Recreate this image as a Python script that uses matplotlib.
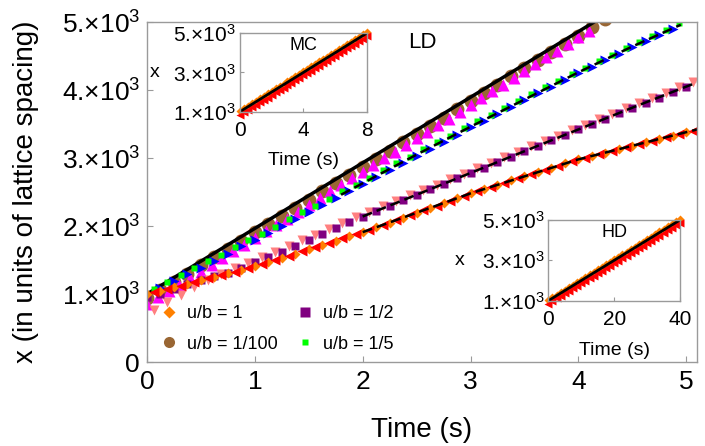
import matplotlib
matplotlib.use("Agg")
import matplotlib.pyplot as plt
from matplotlib.lines import Line2D
from matplotlib.ticker import FuncFormatter

plt.rcParams["font.family"] = ["Liberation Sans", "DejaVu Sans"]
plt.rcParams["mathtext.fontset"] = "custom"
plt.rcParams["mathtext.rm"] = "Liberation Sans"
plt.rcParams["mathtext.it"] = "Liberation Sans:italic"

# sampling times of the LD trajectories (s)
t_grid = [0.0, 0.125, 0.25, 0.375, 0.5, 0.625, 0.75, 0.875, 1.0, 1.125, 1.25,
          1.375, 1.5, 1.625, 1.75, 1.875, 2.0, 2.125, 2.25, 2.375, 2.5, 2.625,
          2.75, 2.875, 3.0, 3.125, 3.25, 3.375, 3.5, 3.625, 3.75, 3.875, 4.0,
          4.125, 4.25, 4.375, 4.5, 4.625, 4.75, 4.875, 5.0]
t_half = [0.0625, 0.1875, 0.3125, 0.4375, 0.5625, 0.6875, 0.8125, 0.9375,
          1.0625, 1.1875, 1.3125, 1.4375, 1.5625, 1.6875, 1.8125, 1.9375,
          2.0625, 2.1875, 2.3125, 2.4375, 2.5625, 2.6875, 2.8125, 2.9375,
          3.0625, 3.1875, 3.3125, 3.4375, 3.5625, 3.6875, 3.8125, 3.9375,
          4.0625, 4.1875, 4.3125, 4.4375, 4.5625, 4.6875, 4.8125, 4.9375, 5.0625]
t_magenta = [0.0, 0.1, 0.2, 0.3, 0.4, 0.5, 0.6, 0.7, 0.8, 0.9, 1.0, 1.1, 1.2,
             1.3, 1.4, 1.5, 1.6, 1.7, 1.8, 1.9, 2.0, 2.1, 2.2, 2.3, 2.4, 2.5,
             2.6, 2.7, 2.8, 2.9, 3.0, 3.1, 3.2, 3.3, 3.4, 3.5, 3.6, 3.7, 3.8,
             3.9, 4.0, 4.1]

# u/b = 1 (orange) and its companion run (red)
x_ub1 = [1000, 1050, 1100, 1150, 1200, 1255, 1305, 1360, 1410, 1470, 1535, 1595,
         1660, 1720, 1785, 1850, 1910, 1980, 2050, 2125, 2195, 2265, 2340, 2410,
         2480, 2545, 2605, 2670, 2730, 2795, 2855, 2920, 2980, 3030, 3080, 3130,
         3180, 3230, 3280, 3330, 3380]
x_red = [1025, 1075, 1125, 1175, 1230, 1280, 1330, 1385, 1440, 1505, 1565, 1630,
         1690, 1755, 1820, 1880, 1945, 2015, 2090, 2160, 2230, 2300, 2375, 2445,
         2510, 2575, 2640, 2700, 2765, 2825, 2890, 2950, 3005, 3055, 3105, 3155,
         3205, 3255, 3305, 3355, 3400]
# u/b = 1/2 (purple) and pink run
x_ub2 = [950, 1000, 1080, 1150, 1200, 1260, 1310, 1390, 1470, 1550, 1620, 1700,
         1790, 1880, 1970, 2060, 2140, 2220, 2300, 2380, 2460, 2540, 2620, 2700,
         2780, 2860, 2940, 3020, 3100, 3180, 3260, 3340, 3420, 3500, 3580, 3660,
         3740, 3810, 3890, 3970, 4050]
x_pink = [770, 880, 990, 1100, 1200, 1300, 1380, 1460, 1540, 1620, 1700, 1790,
          1870, 1960, 2050, 2130, 2210, 2290, 2370, 2450, 2530, 2610, 2690, 2770,
          2850, 2930, 3010, 3090, 3170, 3250, 3330, 3410, 3490, 3570, 3650, 3730,
          3810, 3880, 3960, 4040, 4120]
# u/b = 1/5 (green) and blue run
x_blue = [1000, 1090, 1190, 1290, 1390, 1490, 1590, 1700, 1800, 1900, 2000, 2110,
          2210, 2310, 2410, 2520, 2620, 2720, 2830, 2930, 3030, 3140, 3240, 3340,
          3450, 3550, 3650, 3750, 3850, 3950, 4050, 4150, 4250, 4340, 4440, 4530,
          4630, 4720, 4810, 4900]
x_ub5 = [1080, 1180, 1280, 1380, 1480, 1580, 1690, 1790, 1890, 1990, 2100, 2200,
         2300, 2400, 2510, 2610, 2710, 2820, 2920, 3020, 3130, 3230, 3330, 3440,
         3540, 3640, 3740, 3840, 3940, 4040, 4140, 4240, 4330, 4430, 4520, 4620,
         4710, 4800, 4890, 4980]
# u/b = 1/100 (brown) and magenta run
x_ub100 = [940, 1060, 1180, 1300, 1420, 1545, 1665, 1785, 1905, 2025, 2145, 2270,
           2390, 2510, 2630, 2750, 2870, 2990, 3110, 3230, 3350, 3475, 3595, 3715,
           3835, 3955, 4075, 4200, 4320, 4440, 4560, 4680, 4800, 4920, 5040]
x_magenta = [850, 950, 1050, 1140, 1240, 1330, 1430, 1530, 1630, 1720, 1820, 1920,
             2020, 2110, 2210, 2310, 2410, 2510, 2600, 2700, 2800, 2900, 3000, 3090,
             3190, 3290, 3390, 3490, 3580, 3680, 3780, 3880, 3980, 4080, 4180, 4280,
             4380, 4480, 4580, 4680, 4780, 4870]

# fits
fit_lin_t = [0.0, 5.1]
fit_lin_x = [1000, 5920]
fit1_t = [2.0, 2.5, 3.0, 3.5, 4.0, 4.5, 5.0, 5.1]
fit1_x = [1910, 2195, 2480, 2730, 2980, 3180, 3380, 3420]
fit2_t = [2.0, 2.5, 3.0, 3.5, 4.0, 4.5, 5.0, 5.1]
fit2_x = [2140, 2460, 2780, 3100, 3420, 3740, 4050, 4110]
fit3_t = [1.8, 2.5, 3.0, 3.5, 4.0, 4.5, 4.95]
fit3_x = [2460, 3050, 3460, 3860, 4260, 4640, 4960]

# MC inset
t_mc = [0.0, 0.25, 0.5, 0.75, 1.0, 1.25, 1.5, 1.75, 2.0, 2.25, 2.5, 2.75, 3.0,
        3.25, 3.5, 3.75, 4.0, 4.25, 4.5, 4.75, 5.0, 5.25, 5.5, 5.75, 6.0, 6.25,
        6.5, 6.75, 7.0, 7.25, 7.5, 7.75, 8.0]
mc_orange = [1060, 1190, 1310, 1440, 1560, 1690, 1810, 1930, 2060, 2190, 2310,
             2430, 2560, 2690, 2810, 2940, 3060, 3180, 3310, 3440, 3560, 3680,
             3810, 3940, 4060, 4190, 4310, 4430, 4560, 4690, 4810, 4940, 5060]
mc_red = [850, 980, 1100, 1220, 1350, 1480, 1600, 1720, 1850, 1980, 2100, 2230,
          2350, 2470, 2600, 2730, 2850, 2970, 3100, 3230, 3350, 3470, 3600, 3730,
          3850, 3970, 4100, 4230, 4350, 4470, 4600, 4730, 4850]
mc_fit_t = [0, 8]
mc_fit_x = [1000, 5000]

# HD inset
t_hd = [0.0, 1.25, 2.5, 3.75, 5.0, 6.25, 7.5, 8.75, 10.0, 11.25, 12.5, 13.75,
        15.0, 16.25, 17.5, 18.75, 20.0, 21.25, 22.5, 23.75, 25.0, 26.25, 27.5,
        28.75, 30.0, 31.25, 32.5, 33.75, 35.0, 36.25, 37.5, 38.75, 40.0]
hd_orange = [1050, 1180, 1300, 1430, 1550, 1680, 1800, 1930, 2050, 2180, 2300,
             2430, 2550, 2680, 2800, 2930, 3050, 3180, 3300, 3430, 3550, 3680,
             3800, 3930, 4050, 4180, 4300, 4430, 4550, 4680, 4800, 4930, 5050]
hd_red = [860, 980, 1110, 1230, 1360, 1480, 1610, 1730, 1860, 1980, 2110, 2230,
          2360, 2480, 2610, 2730, 2860, 2980, 3110, 3230, 3360, 3480, 3610, 3730,
          3860, 3980, 4110, 4230, 4360, 4480, 4610, 4730, 4860]
hd_fit_t = [0, 40]
hd_fit_x = [1000, 5000]

y_ticks = [0, 1000, 2000, 3000, 4000, 5000]
x_ticks = [0, 1, 2, 3, 4, 5]

ORANGE = "#ff8000"
RED = "#ff0000"
PURPLE = "#800080"
PINK = "#ff8080"
GREEN = "#00ff00"
BLUE = "#0000ff"
BROWN = "#996633"
MAGENTA = "#ff00ff"
FRAME = "#9a9a9a"
DASH = (4, 2)


def sci(v, pos=None):
    if v == 0:
        return "0"
    return "%d.$\\times$10$^{3}$" % round(v / 1000)


def style_frame(ax, size, pad_x, pad_y):
    for s in ax.spines.values():
        s.set_color(FRAME)
        s.set_linewidth(1.0)
    ax.tick_params(direction="in", color=FRAME, length=4, width=0.8,
                   labelsize=size)
    ax.tick_params(axis="x", pad=pad_x)
    ax.tick_params(axis="y", pad=pad_y)


fig = plt.figure(figsize=(7.05, 4.46), dpi=100)
ax = fig.add_axes([0.2085, 0.1883, 0.7801, 0.7623])

ax.plot(t_grid[:35], x_ub100, "o", color=BROWN, ms=10, mec="none")
ax.plot(t_magenta, x_magenta, "^", color=MAGENTA, ms=8.5, mec="none")
ax.plot(fit_lin_t, fit_lin_x, "-", color="black", lw=2.5)

ax.plot(t_grid[:40], x_blue, ">", color=BLUE, ms=6.5, mec="none")
ax.plot(t_half[:40], x_ub5, "s", color=GREEN, ms=4, mec="none")
ax.plot(fit3_t, fit3_x, "--", color="black", lw=1.8, dashes=DASH)

ax.plot(t_half, x_pink, "v", color=PINK, ms=7.5, mec="none")
ax.plot(t_grid, x_ub2, "s", color=PURPLE, ms=6, mec="none")
ax.plot(fit2_t, fit2_x, "--", color="black", lw=1.8, dashes=DASH)

ax.plot(t_grid, x_ub1, "D", color=ORANGE, ms=5.5, mec="none")
ax.plot(t_half, x_red, "<", color=RED, ms=7.5, mec="none")
ax.plot(fit1_t, fit1_x, "--", color="black", lw=1.8, dashes=DASH)

ax.set_xlim(0, 5.1)
ax.set_ylim(0, 5000)
ax.set_xticks(x_ticks)
ax.set_yticks(y_ticks)
ax.yaxis.set_major_formatter(FuncFormatter(sci))
style_frame(ax, 19, 6, 5)
ax.set_xlabel("Time (s)", fontsize=20)
ax.xaxis.set_label_coords(0.5, -0.163)
ax.xaxis.label.set_va("top")
ax.set_ylabel("x (in units of lattice spacing)", fontsize=20)
ax.yaxis.set_label_coords(-0.196, 0.5)
ax.text(0.5, 0.941, "LD", transform=ax.transAxes, fontsize=16,
        ha="center", va="center")

handles = [
    Line2D([], [], ls="none", marker="D", color=ORANGE, ms=6, mec="none"),
    Line2D([], [], ls="none", marker="o", color=BROWN, ms=8, mec="none"),
    Line2D([], [], ls="none", marker="s", color=PURPLE, ms=6.5, mec="none"),
    Line2D([], [], ls="none", marker="s", color=GREEN, ms=5, mec="none"),
]
labels = ["u/b = 1", "u/b = 1/100", "u/b = 1/2", "u/b = 1/5"]
ax.legend(handles, labels, ncol=2, loc="lower left",
          bbox_to_anchor=(0.0, -0.01), frameon=False, fontsize=13,
          handlelength=1.0, handletextpad=0.5, columnspacing=1.0,
          labelspacing=0.75, borderaxespad=0.3)


def inset(rect, t, orange, red, fit_t, fit_x, xmax, xt, name):
    ia = fig.add_axes(rect)
    ia.plot(t, orange, "D", color=ORANGE, ms=4, mec="none", clip_on=False)
    ia.plot(t, red, "<", color=RED, ms=6, mec="none", clip_on=False)
    ia.plot(fit_t, fit_x, "-", color="black", lw=2.0)
    ia.set_xlim(0, xmax)
    ia.set_ylim(1000, 5000)
    ia.set_xticks(xt)
    ia.set_yticks([1000, 3000, 5000])
    ia.yaxis.set_major_formatter(FuncFormatter(sci))
    style_frame(ia, 15, 7, 3)
    ia.tick_params(length=3)
    ia.set_xlabel("Time (s)", fontsize=14)
    ia.xaxis.set_label_coords(0.5, -0.51)
    ia.xaxis.label.set_va("top")
    ia.set_ylabel("x", fontsize=14, rotation=0, ha="center", va="center")
    ia.yaxis.set_label_coords(-0.67, 0.5)
    ia.text(0.5, 0.85, name, transform=ia.transAxes, fontsize=13,
            ha="center", va="center")
    return ia


inset([0.3404, 0.7496, 0.1797, 0.1758], t_mc, mc_orange, mc_red,
      mc_fit_t, mc_fit_x, 8, [0, 4, 8], "MC")
inset([0.7778, 0.3258, 0.1868, 0.181], t_hd, hd_orange, hd_red,
      hd_fit_t, hd_fit_x, 40, [0, 20, 40], "HD")

fig.savefig("out.png", dpi=100)
